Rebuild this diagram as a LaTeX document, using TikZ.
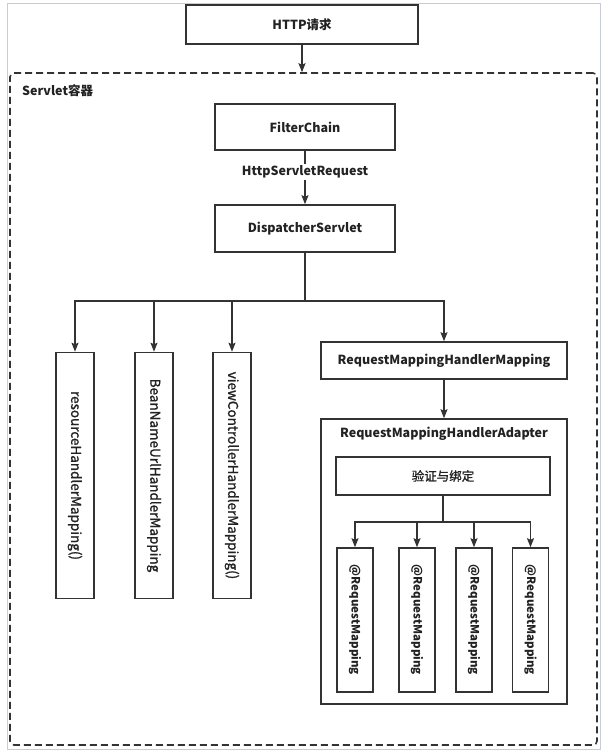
\documentclass[tikz,border=0pt]{standalone}
\usepackage{fontspec}
\setmainfont{Noto Sans CJK SC}
\newfontfamily\medf{Noto Sans CJK SC}[FakeBold=1.2]
\usetikzlibrary{arrows.meta}
\definecolor{ln}{HTML}{333333}
\definecolor{tx}{HTML}{222222}
\definecolor{frame}{HTML}{C8CCD4}
\begin{document}
\begin{tikzpicture}[x=1pt,y=-1pt,
  box/.style={draw=ln, line width=1.5pt, fill=white, inner sep=0pt, text=tx, font=\fontsize{12.5}{14}\selectfont\bfseries},
  vbox/.style={box, minimum width=38pt},
  rbox/.style={box, minimum width=36pt, minimum height=144pt},
  arr/.style={draw=ln, line width=1.5pt, -{Stealth[length=9pt,width=7pt,inset=1.5pt]}},
  ln/.style={draw=ln, line width=1.5pt},
  vtxt/.style={rotate=-90, text=tx, inner sep=0pt, font=\fontsize{13.5}{15}\selectfont\medf},
  lbl/.style={text=tx, inner sep=0pt, font=\fontsize{12.5}{14}\selectfont\bfseries}]
\useasboundingbox (0,0) rectangle (609,756);
\draw[frame, line width=0.8pt] (7,3) rectangle (600,749);
% container
\node[draw=ln, line width=1.6pt, dash pattern=on 7pt off 4pt, rounded corners=4pt, minimum width=587pt, minimum height=672pt, inner sep=0pt] (cont) at (303.5,409) {};
\node[lbl, anchor=west] (ctitle) at (22,91) {Servlet容器};
% top
\node[box, minimum width=232pt, minimum height=39pt] (http) at (302,24.5) {HTTP请求};
\draw[arr] (http.south) -- (http.south |- cont.north);
\node[box, minimum width=180pt, minimum height=46pt] (fc) at (305,127) {FilterChain};
\node[box, minimum width=180pt, minimum height=47pt] (ds) at (305,228.5) {DispatcherServlet};
\node[lbl, fill=white, inner sep=2pt] (req) at (305,172) {HttpServletRequest};
\draw[ln] (fc.south) -- (req.north);
\draw[arr] (req.south) -- (ds.north);
% fork
\coordinate (fork) at (305,301);
\draw[ln] (ds.south) -- (fork);
\node[vbox, minimum height=246pt] (r1) at (75,475.5) {};
\node[vtxt] (t1) at (r1.center) {resourceHandlerMapping()};
\node[vbox, minimum height=246pt] (r2) at (154,475.5) {};
\node[vtxt] (t2) at (r2.center) {BeanNameUrlHandlerMapping};
\node[vbox, minimum height=246pt] (r3) at (232,475.5) {};
\node[vtxt] (t3) at (r3.center) {viewControllerHandlerMapping()};
\node[box, minimum width=246pt, minimum height=37pt] (rmhm) at (444,360.5) {RequestMappingHandlerMapping};
\draw[arr] (fork) -| (r1.north);
\draw[arr] (fork) -| (r2.north);
\draw[arr] (fork) -| (r3.north);
\draw[arr] (fork) -| (rmhm.north);
% adapter
\node[box, minimum width=246pt, minimum height=285pt] (ada) at (444,561.5) {};
\node[lbl] (adat) at (444,434) {RequestMappingHandlerAdapter};
\draw[arr] (rmhm.south) -- (ada.north);
\node[box, minimum width=214pt, minimum height=38pt, font=\fontsize{12.5}{14}\selectfont\medf] (vb) at (443,476) {验证与绑定};
\coordinate (fork2) at (443,522);
\draw[ln] (vb.south) -- (fork2);
\foreach \i/\x in {1/355,2/417,3/474,4/530.5}{
  \node[rbox] (m\i) at (\x,620) {};
  \node[rotate=-90, lbl, font=\fontsize{11.5}{13}\selectfont\bfseries] (mt\i) at (m\i.center) {@RequestMapping};
  \draw[arr] (fork2) -| (m\i.north);
}
\end{tikzpicture}
\end{document}
